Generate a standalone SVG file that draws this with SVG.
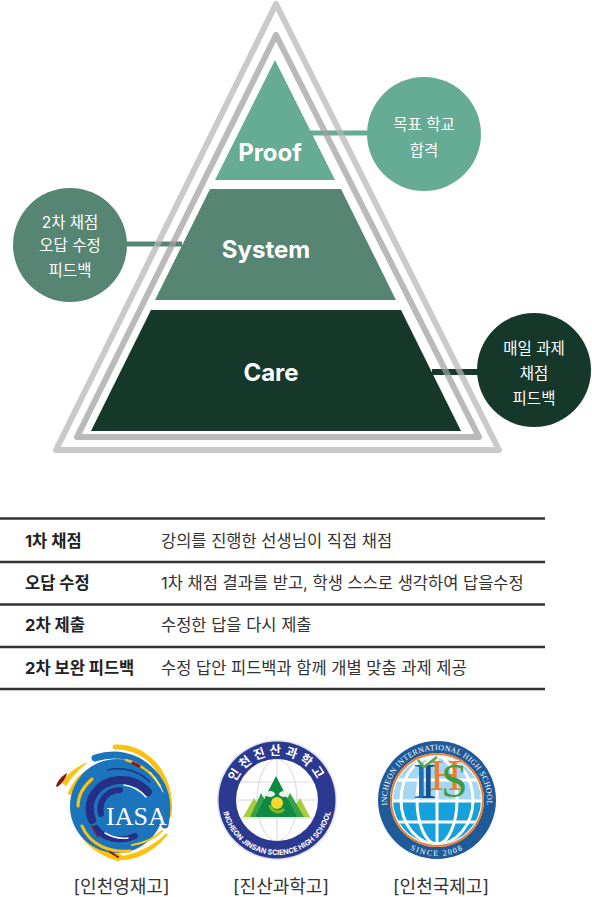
<svg xmlns="http://www.w3.org/2000/svg" width="592" height="897" viewBox="0 0 592 897">
<style>
text{font-family:"Inter","Noto Sans CJK KR",sans-serif}
.bub{font-size:15.5px;fill:#fff;text-anchor:middle}
.lvl{font-size:24px;font-weight:700;fill:#fff;text-anchor:middle}
.th{font-size:16.5px;font-weight:700;fill:#222}
.td{font-size:16.5px;fill:#333}
.rule{stroke:#333;stroke-width:2.5}
.cap{font-size:18px;fill:#333;text-anchor:middle}
.tri{fill:none;stroke-linejoin:round}
.ser{font-family:"Liberation Serif",serif}
</style>
<defs>
<path id="jTop" d="M277 845a45 45 0 1 1 0 -90a45 45 0 1 1 0 90"/>
<path id="jBot" d="M277 745a55 55 0 1 0 0 110a55 55 0 1 0 0 -110"/>
<path id="iTop" d="M437 850a50 50 0 1 1 0 -100a50 50 0 1 1 0 100"/>
<path id="iBot" d="M437 744a56 56 0 1 0 0 112a56 56 0 1 0 0 -112"/>
<clipPath id="gl"><circle cx="437" cy="800" r="44"/></clipPath>
<clipPath id="jg"><circle cx="277" cy="800" r="41"/></clipPath>
</defs>

<g id="connectors">
<path d="M310 133H372" stroke="#66ab93" stroke-width="5"/>
<path d="M318 137H372" stroke="#fff" stroke-width="1.5"/>
<path d="M124 244H182" stroke="#568574" stroke-width="5"/>
<path d="M124 248H175" stroke="#fff" stroke-width="1.5"/>
<path d="M432 372H484" stroke="#15382b" stroke-width="6"/>
<path d="M436 376H484" stroke="#fff" stroke-width="1.5"/>
</g>

<g id="frame">
<path class="tri" d="M276 4L499 450H56Z" stroke="#b5b5b5" stroke-opacity=".72" stroke-width="6"/>
<path class="tri" d="M276 35L479 437H77Z" stroke="#a0a0a0" stroke-opacity=".72" stroke-width="6"/>
</g>

<g id="proof"><path d="M275 60L335 180H215Z" fill="#66ab93"/><text class="lvl" x="270" y="161">Proof</text></g>
<g id="system"><path d="M210 189H341L396 300H155Z" fill="#568574"/><text class="lvl" x="266" y="258">System</text></g>
<g id="care"><path d="M151 310H401L461 431H91Z" fill="#15382b"/><text class="lvl" x="271" y="381">Care</text></g>

<g id="goal"><circle cx="424" cy="134" r="57" fill="#66ab93"/><text class="bub" x="424" y="130">목표 학교</text><text class="bub" x="424" y="156">합격</text></g>
<g id="second"><circle cx="70" cy="245" r="57" fill="#568574"/><text class="bub" x="70" y="228">2차 채점</text><text class="bub" x="70" y="251">오답 수정</text><text class="bub" x="70" y="276">피드백</text></g>
<g id="daily"><circle cx="534" cy="370" r="57" fill="#15382b"/><text class="bub" x="534" y="354">매일 과제</text><text class="bub" x="534" y="379">채점</text><text class="bub" x="534" y="404">피드백</text></g>

<g id="table">
<path class="rule" d="M0 518.500H545M0 562H545M0 604.500H545M0 647H545M0 689H545" />
<text class="th" x="25" y="547">1차 채점</text><text class="td" x="161" y="547">강의를 진행한 선생님이 직접 채점</text>
<text class="th" x="25" y="589">오답 수정</text><text class="td" x="161" y="589">1차 채점 결과를 받고, 학생 스스로 생각하여 답을수정</text>
<text class="th" x="25" y="631">2차 제출</text><text class="td" x="161" y="631">수정한 답을 다시 제출</text>
<text class="th" x="25" y="674">2차 보완 피드백</text><text class="td" x="161" y="674">수정 답안 피드백과 함께 개별 맞춤 과제 제공</text>
</g>

<g id="iasa" fill="none" stroke-linecap="round">
<path d="M115 747C135 746 152 758 160 772C168 785 171 800 169 815" stroke="#fdc20f" stroke-width="5"/>
<path d="M62 783C68 772 78 766 88 762C80 769 72 776 66 786Z" fill="#fdc20f"/>
<path d="M56 786C58 780 62 776 67 773C66 778 62 784 57 787Z" fill="#8a1414"/>
<path d="M70 793C76 780 84 772 94 769" stroke="#fdc20f" stroke-width="4"/>
<path d="M74 816C72 800 78 785 90 775" stroke="#fdc20f" stroke-width="6"/>
<path d="M76 812C80 835 95 850 118 857" stroke="#fdc20f" stroke-width="8"/>
<path d="M120 857C135 856 155 846 167 834C155 850 135 860 120 859Z" fill="#fdc20f" stroke="#fdc20f" stroke-width="2"/>
<circle cx="117" cy="806" r="47" fill="#1b75bc"/>
<path d="M95 758C115 752 135 755 150 770" stroke="#1b75bc" stroke-width="7"/>
<path d="M152 772C164 784 170 802 165 825" stroke="#1b75bc" stroke-width="7"/>
<path d="M126 760C140 764 152 772 160 786" stroke="#fdc20f" stroke-width="2.500"/>
<path d="M82 826C90 845 110 853 130 851" stroke="#fdc20f" stroke-width="3"/>
<path d="M132 845C145 843 155 838 162 831" stroke="#fdc20f" stroke-width="2"/>
<path d="M78 806C78 795 84 786 92 779" stroke="#fdc20f" stroke-width="3"/>
<path d="M92 820C84 800 98 782 118 780C132 779 142 785 148 792" stroke="#262e85" stroke-width="8"/>
<path d="M96 828C104 840 122 842 135 836" stroke="#262e85" stroke-width="6"/>
<path d="M101 814C98 800 108 790 120 790" stroke="#262e85" stroke-width="6"/>
<path d="M108 770C125 766 140 772 150 782" stroke="#262e85" stroke-width="1.500"/>
<path d="M133 763l6 3" stroke="#8a1414" stroke-width="3"/>
<path d="M110 852l8 5" stroke="#8a1414" stroke-width="2"/>
<path d="M92 826l6 11" stroke="#8a1414" stroke-width="1.500"/>
<path d="M124 785C132 786 140 790 146 797" stroke="#fff" stroke-width="1.500"/>
<path d="M105 833C112 837 120 839 128 838" stroke="#fff" stroke-width="1.500"/>
<path d="M150 772C155 778 160 785 163 792" stroke="#fff" stroke-width="1"/>
<text class="ser" x="106" y="825" font-size="26" fill="#fff" stroke="none">IASA</text>
</g>
<g id="iasa-label"><text class="cap" x="121.500" y="893">[인천영재고]</text></g>

<g id="jinsan">
<circle cx="277" cy="800" r="60" fill="#dfe2f0"/>
<circle cx="277" cy="800" r="58.500" fill="#2b3990"/>
<circle cx="277" cy="800" r="41" fill="#fff"/>
<g clip-path="url(#jg)" fill="none" stroke="#d5d8dc" stroke-width="1">
<ellipse cx="277" cy="800" rx="20" ry="41"/><path d="M277 759V841M236 800H318M240 782H314M240 818H314"/>
</g>
<path d="M243 817L254 798L266 817ZM288 817L300 798L310 817Z" fill="#a6ce39"/>
<path d="M250 817L261 793L275 817ZM278 817L290 793L304 817Z" fill="#39a04a"/>
<path d="M255 817L276 776L297 817Z" fill="#0f8a43"/>
<circle cx="277" cy="803" r="6" fill="#f5d92f"/><path d="M270 805a8 8 0 0 0 14 4" fill="none" stroke="#7ab929" stroke-width="3"/>
<ellipse cx="270" cy="794" rx="5" ry="3" fill="#eee"/><ellipse cx="284" cy="794" rx="5" ry="3" fill="#eee"/>
<text font-size="12.500" font-weight="700" fill="#fff" letter-spacing="3.5"><textPath href="#jTop" startOffset="50%" text-anchor="middle">인천진산과학고</textPath></text>
<text font-size="7.200" font-weight="700" fill="#fff"><textPath href="#jBot" startOffset="50%" text-anchor="middle">INCHEON JINSAN SCIENCE HIGH SCHOOL</textPath></text>
</g>
<g id="jinsan-label"><text class="cap" x="281" y="893">[진산과학고]</text></g>

<g id="ihs">
<circle cx="437" cy="800" r="59" fill="#1f5a99"/>
<circle cx="437" cy="800" r="47" fill="#fff"/>
<circle cx="437" cy="800" r="46" fill="none" stroke="#ee7c2b" stroke-width="2"/>
<g clip-path="url(#gl)">
<rect x="393" y="756" width="88" height="44" fill="#a5d6f2"/>
<rect x="393" y="802" width="88" height="42" fill="#16a0dc"/>
<g fill="none" stroke="#fff" stroke-width="3">
<path d="M393 801H481M393 780H481M393 822H481"/>
<path d="M437 756V844"/><ellipse cx="437" cy="800" rx="20" ry="44"/><ellipse cx="437" cy="800" rx="36" ry="44"/>
</g>
</g>
<text class="ser" font-size="8" fill="#fff" letter-spacing=".3"><textPath href="#iTop" startOffset="50%" text-anchor="middle">INCHEON INTERNATIONAL HIGH SCHOOL</textPath></text>
<text class="ser" font-size="8" fill="#fff" letter-spacing="1.500"><textPath href="#iBot" startOffset="50%" text-anchor="middle">SINCE 2008</textPath></text>
<text class="ser" x="413" y="798" font-size="50" fill="#1f6fb5">I</text>
<text class="ser" x="420" y="798" font-size="50" fill="#1b4f8a">I</text>
<text class="ser" x="430" y="790" font-size="44" fill="#ee7c2b">H</text>
<text class="ser" x="441" y="797" font-size="48" fill="#3f9a45">S</text>
<path d="M418 760l6 7l13-10" fill="none" stroke="#5aa845" stroke-width="2.500"/>
</g>
<g id="ihs-label"><text class="cap" x="441" y="893">[인천국제고]</text></g>
</svg>
